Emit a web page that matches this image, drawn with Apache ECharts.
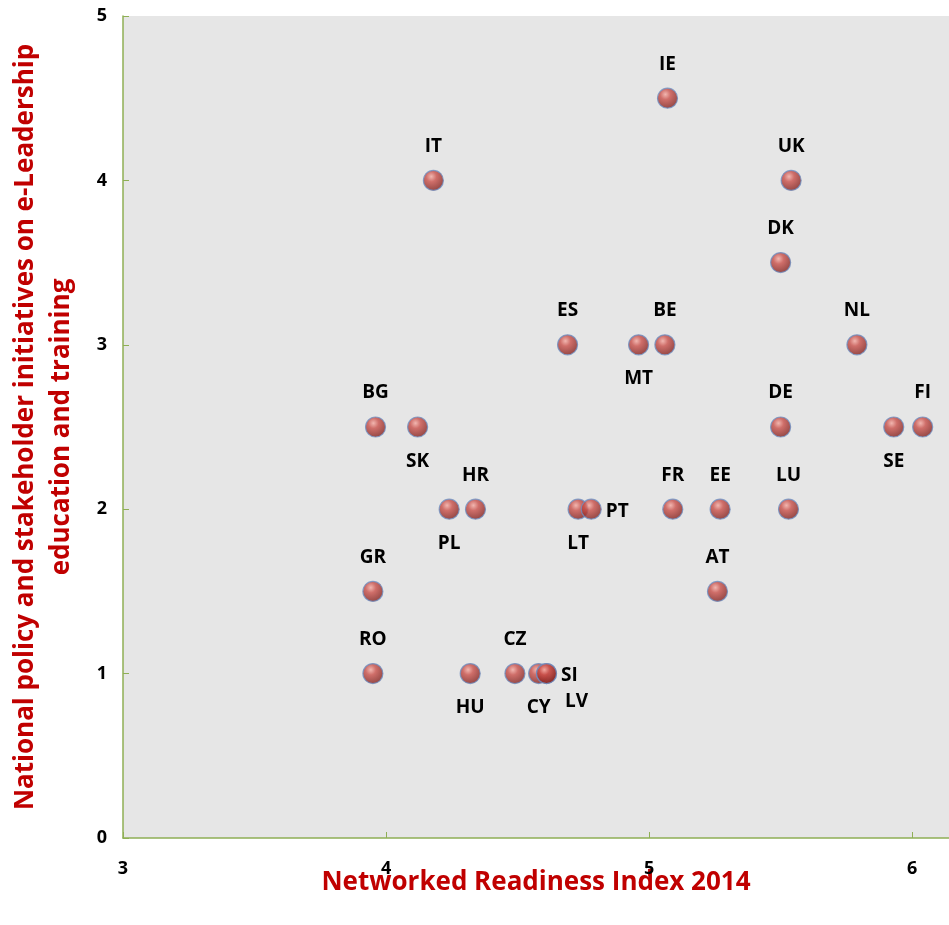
<!DOCTYPE html>
<html><head><meta charset="utf-8">
<script src="https://cdn.jsdelivr.net/npm/echarts@6/dist/echarts.min.js"></script>
<style>html,body{margin:0;padding:0;background:#fff}#c{width:949px;height:925px}</style>
</head><body><div id="c"></div>
<script>
const countries = ['IE','IT','UK','DK','ES','MT','BE','NL','BG','SK','DE','SE','FI','PL','HR','LT','PT','FR','EE','LU','GR','AT','RO','HU','CZ','CY','LV','SI'];
const nri = [5.07,4.18,5.54,5.50,4.69,4.96,5.06,5.79,3.96,4.12,5.50,5.93,6.04,4.24,4.34,4.73,4.78,5.09,5.27,5.53,3.95,5.26,3.95,4.32,4.49,4.58,4.61,4.61];
const policy = [4.5,4,4,3.5,3,3,3,3,2.5,2.5,2.5,2.5,2.5,2,2,2,2,2,2,2,1.5,1.5,1,1,1,1,1,1];
const labelPos = ['top','top','top','top','top','bottom','top','top','top','bottom','top','bottom','top','bottom','top','bottom','right','top','top','top','top','top','top','bottom','top','bottom','bottomRight','right'];
const xTicks = [3,4,5,6];
const yTicks = [0,1,2,3,4,5];

const FONT = '"Open Sans"';
const chart = echarts.init(document.getElementById('c'));
const data = countries.map((c,i)=>{
  const p = labelPos[i];
  const lbl = {};
  if (p==='bottomRight') { lbl.position='right'; lbl.offset=[-6,28]; }
  else if (p==='right') { lbl.position='right'; lbl.offset=[-10,2]; }
  else lbl.position = p;
  return {name:c, value:[nri[i],policy[i]], label:lbl};
});
chart.setOption({
  animation:false,
  grid:{left:123,top:16,right:0,bottom:87,show:true,backgroundColor:'#e6e6e6',borderWidth:0,containLabel:false,outerBoundsContain:'axisLabel'},
  xAxis:{type:'value',min:3,max:6.14,interval:1,
    axisLine:{show:true,lineStyle:{color:'#8faf55',width:1.5}},
    axisTick:{show:true,inside:true,length:6,lineStyle:{color:'#8faf55'}},
    splitLine:{show:false},
    axisLabel:{margin:22,color:'#000',fontFamily:FONT,fontWeight:'bold',fontSize:18,
      showMaxLabel:false,formatter:v=>xTicks.includes(v)?String(v):''},
    name:'Networked Readiness Index 2014',nameLocation:'middle',nameGap:32,nameMoveOverlap:false,
    nameTextStyle:{color:'#c00000',fontFamily:FONT,fontWeight:'bold',fontSize:26,verticalAlign:'top'}
  },
  yAxis:{type:'value',min:0,max:5,interval:1,
    axisLine:{show:true,lineStyle:{color:'#8faf55',width:1.5}},
    axisTick:{show:true,inside:true,length:6,lineStyle:{color:'#8faf55'}},
    splitLine:{show:false},
    axisLabel:{margin:16,color:'#000',fontFamily:FONT,fontWeight:'bold',fontSize:18,
      formatter:v=>yTicks.includes(v)?String(v):''},
    name:'National policy and stakeholder initiatives on e-Leadership\neducation and training',
    nameLocation:'middle',nameGap:43,nameRotate:90,nameMoveOverlap:false,
    nameTextStyle:{color:'#c00000',fontFamily:FONT,fontWeight:'bold',fontSize:26,lineHeight:36}
  },
  series:[{type:'scatter',data:data,symbolSize:20,
    itemStyle:{color:{type:'radial',x:0.4,y:0.32,r:0.7,colorStops:[{offset:0,color:'#f4aaa2'},{offset:0.35,color:'#c9504a'},{offset:1,color:'#7c1e1b'}]},
      borderColor:'#6f8fc0',borderWidth:1.2},
    label:{show:true,formatter:'{b}',distance:14,color:'#000',opacity:1,textBorderWidth:0,fontFamily:FONT,fontWeight:'bold',fontSize:19}
  }]
});
</script></body></html>
